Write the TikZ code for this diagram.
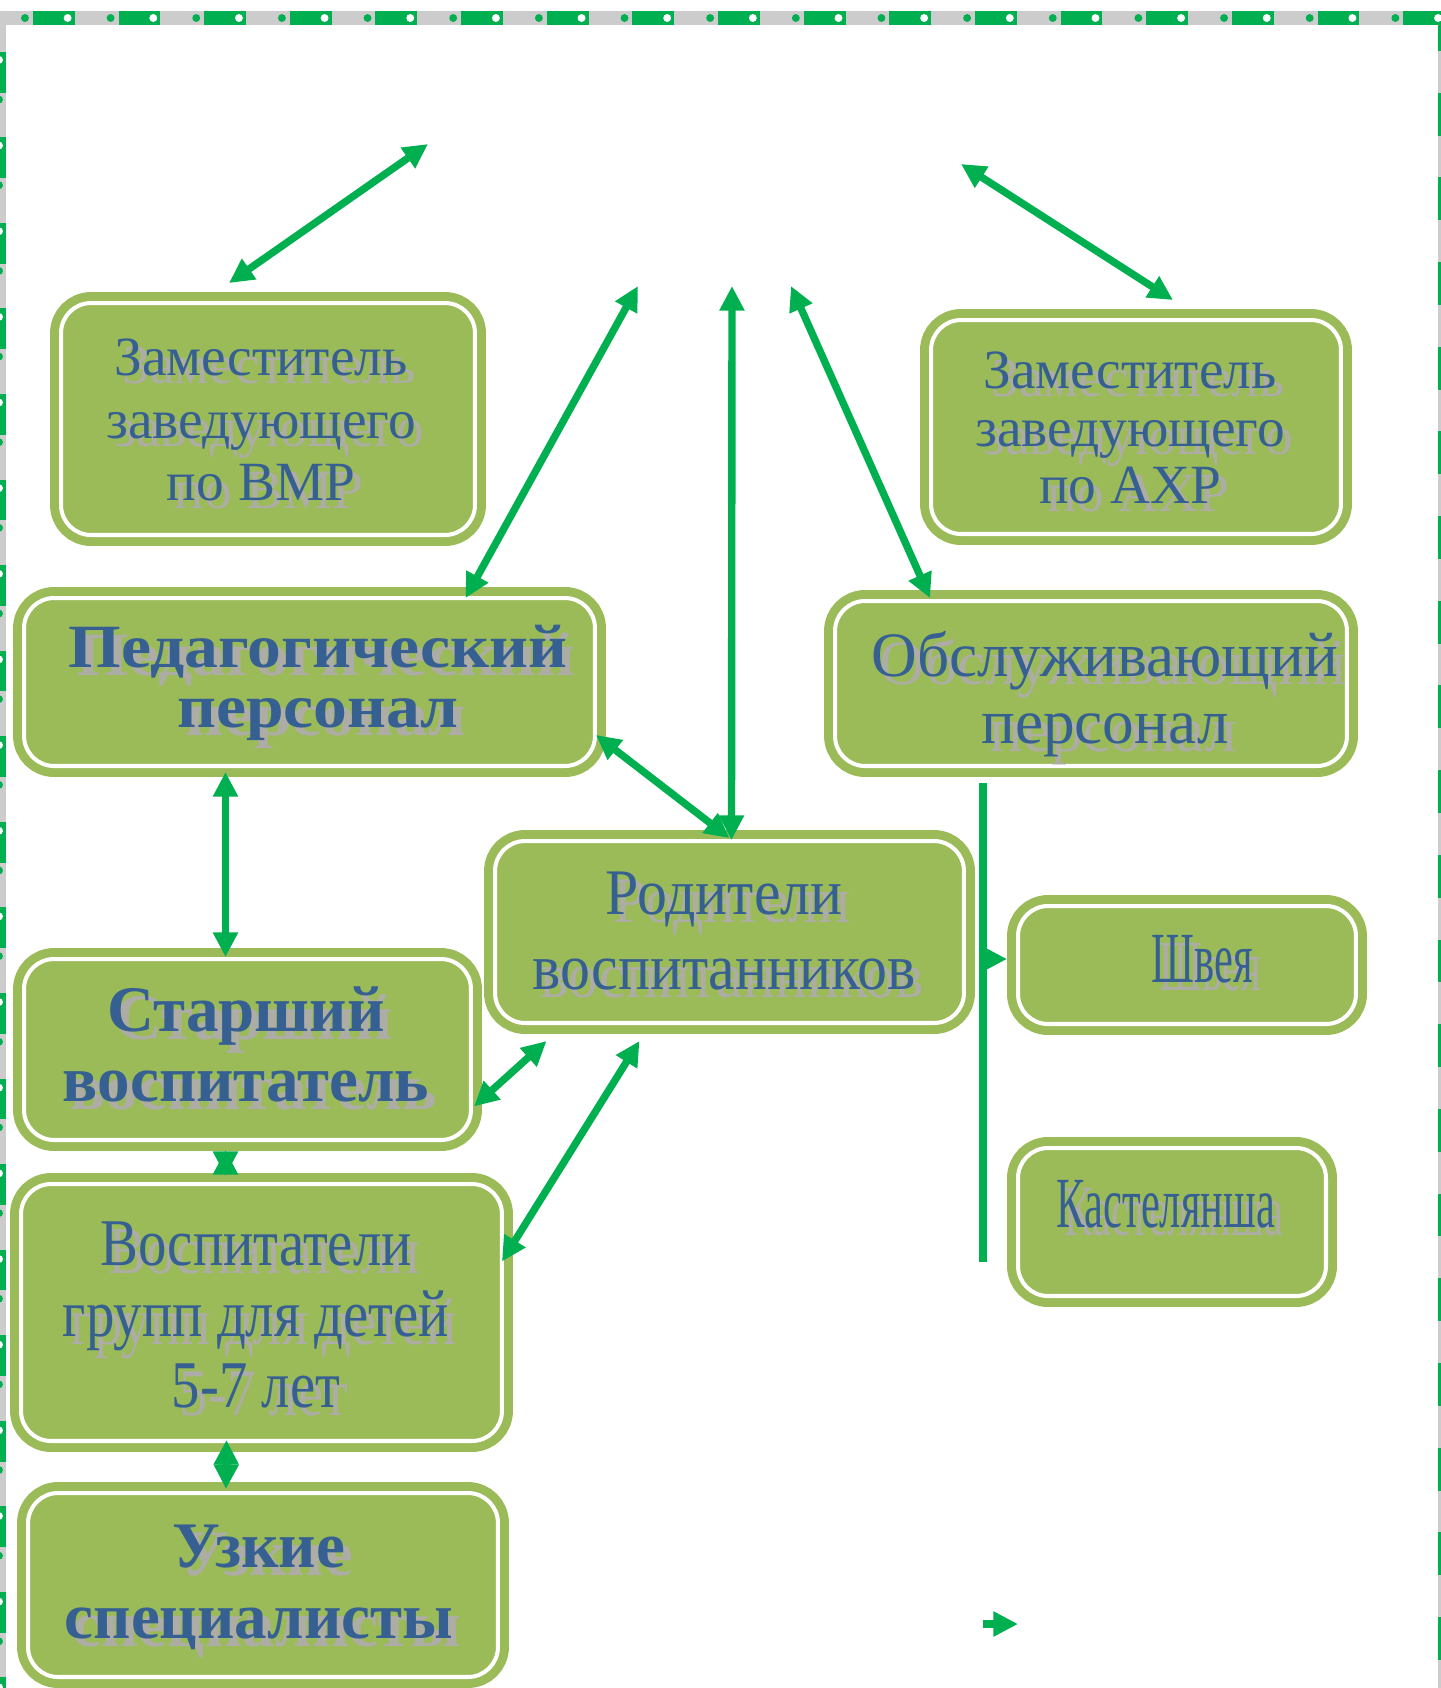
\documentclass[tikz,border=0pt]{standalone}
\usepackage{fontspec}
\setmainfont{Liberation Serif}
\newfontfamily\widerm[FakeStretch=1.1]{Liberation Serif}
\newfontfamily\slimrm[FakeStretch=0.92]{Liberation Serif}
\newfontfamily\condrm[FakeStretch=0.85]{Liberation Serif}
\newfontfamily\narrowrm[FakeStretch=0.59]{Liberation Serif}
\usetikzlibrary{arrows.meta}

\definecolor{boxgreen}{HTML}{9BBB59}
\definecolor{linkgreen}{HTML}{00B050}
\definecolor{textblue}{HTML}{376092}
\definecolor{shadowgray}{HTML}{ADADA6}
\definecolor{framegray}{HTML}{CCCCCC}

% caption with a grey shadow under it
\newcommand{\shadowtext}[3]{%
  \node[caption, text=shadowgray, #2] at ([shift={(8,8)}]#1) {#3};
  \node[caption, text=textblue, #2] at (#1) {#3};}

\begin{document}
\begin{tikzpicture}[x=0.02cm, y=-0.02cm,
    >={Triangle[length=14pt,width=13.5pt]},
    box/.style={rectangle, rounded corners=0.6cm, fill=boxgreen, draw=white,
      line width=2.3pt, outer sep=0.22cm, inner sep=0pt,
      preaction={draw=boxgreen, line width=12.5pt}},
    caption/.style={align=center, inner sep=0pt},
    link/.style={<->, line width=4.2pt, draw=linkgreen},
    arrow/.style={->, line width=4.5pt, draw=linkgreen},
    band/.style={framegray, line width=7.9pt}
  ]
  \useasboundingbox (0,0) rectangle (1441,1688);

  % page frame
  \draw[band] (-8,18) -- (1452,18);
  \draw[band] (-1,18) -- (-1,1700);
  \draw[band] (1445,18) -- (1445,1700);
  \draw[band, linkgreen, dash pattern=on 23.8pt off 24.95pt, dash phase=25.5pt] (-8,18) -- (1452,18);
  \draw[band, linkgreen, dash pattern=on 23.2pt off 25.5pt, dash phase=29.5pt] (-1,18) -- (-1,1700);
  \draw[band, linkgreen, dash pattern=on 24.4pt off 23.8pt, dash phase=5.7pt] (1445,18) -- (1445,1700);
  \draw[white, line width=4.5pt, line cap=round, dash pattern=on 0pt off 48.75pt, dash phase=5.7pt] (-8,18) -- (1452,18);
  \draw[linkgreen, line width=4.5pt, line cap=round, dash pattern=on 0pt off 48.75pt, dash phase=30pt] (-8,18) -- (1452,18);
  \draw[white, line width=4.5pt, line cap=round, dash pattern=on 0pt off 48.75pt, dash phase=24.9pt] (-1,18) -- (-1,1700);
  \draw[linkgreen, line width=4.5pt, line cap=round, dash pattern=on 0pt off 48.75pt, dash phase=2.3pt] (-1,18) -- (-1,1700);

  % boxes
  \node[box, minimum width=8.28cm, minimum height=4.64cm] (bmr) at (268,419) {};
  \node[box, minimum width=8.2cm, minimum height=4.28cm] (axr) at (1136,427) {};
  \node[box, minimum width=11.42cm, minimum height=3.36cm] (ped) at (309.5,682) {};
  \node[box, minimum width=10.24cm, minimum height=3.3cm] (obs) at (1091,683.5) {};
  \node[box, minimum width=9.38cm, minimum height=3.64cm] (rod) at (729.5,932) {};
  \node[box, minimum width=8.94cm, minimum height=3.62cm] (star) at (247.5,1049.5) {};
  \node[box, minimum width=9.62cm, minimum height=5.14cm] (vos) at (261.5,1312.5) {};
  \node[box, minimum width=9.4cm, minimum height=3.68cm] (uzk) at (263,1585) {};
  \node[box, minimum width=6.76cm, minimum height=2.36cm] (shv) at (1187,965) {};
  \node[box, minimum width=6.16cm, minimum height=2.96cm] (kas) at (1172,1222) {};

  % texts
  \shadowtext{261,420}{font=\fontsize{31.5}{35.7}\selectfont}{Заместитель\\заведующего\\по ВМР}
  \shadowtext{1130,428}{font=\fontsize{31.5}{32.5}\selectfont}{Заместитель\\заведующего\\по АХР}
  \shadowtext{318,683}{font=\widerm\bfseries\fontsize{35}{34}\selectfont}{Педагогический\\персонал}
  \shadowtext{1105,694}{font=\fontsize{36}{38}\selectfont}{Обслуживающий\\персонал}
  \shadowtext{724,931}{font=\slimrm\fontsize{37}{42.5}\selectfont}{Родители\\воспитанников}
  \shadowtext{246,1044.5}{font=\bfseries\fontsize{37}{40}\selectfont}{Старший\\воспитатель}
  \shadowtext{256,1315}{font=\condrm\fontsize{38}{40.3}\selectfont}{Воспитатели\\групп для детей\\5-7 лет}
  \shadowtext{259,1587}{font=\bfseries\fontsize{37}{40.5}\selectfont}{Узкие\\специалисты}
  \shadowtext{1202,959}{font=\narrowrm\fontsize{41}{44}\selectfont}{Швея}
  \shadowtext{1166,1204}{font=\narrowrm\fontsize{41}{44}\selectfont}{Кастелянша}

  % free ends up top
  \coordinate (head bmr) at (428,144);
  \coordinate (head axr) at (961,164);
  \coordinate (head ped) at (638,286);
  \coordinate (head rod) at (732,286);
  \coordinate (head obs) at (791,286);
  \coordinate (branch) at (983,783);
  \coordinate (branch end) at (983,1262);
  \coordinate (legend) at (983,1624);

  % links
  \draw[link] ([shift={(-39,-9)}]bmr.north) -- (head bmr);
  \draw[link] ([shift={(37,-9)}]axr.north) -- (head axr);
  \draw[link] ([shift={(156,11)}]ped.north) -- (head ped);
  \draw[link] ([shift={(2,10)}]rod.north) -- (head rod);
  \draw[link] ([shift={(-161,8)}]obs.north) -- (head obs);
  \draw[link] ([shift={(-10,53)}]ped.east) -- ([shift={(0,8)}]rod.north);
  \draw[link] ([shift={(-84,-5)}]ped.south) -- ([shift={(-22,9)}]star.north);
  \draw[link] ([shift={(-8,57)}]star.east) -- ([shift={(-183,7)}]rod.south);
  \draw[link] ([shift={(-11,-51)}]vos.east) -- ([shift={(-90,7)}]rod.south);
  \draw[link] ([shift={(-22,-1)}]star.south) -- ([shift={(-36,3)}]vos.north);
  \draw[link] ([shift={(-35,-12)}]vos.south) -- ([shift={(-37,7)}]uzk.north);
  \draw[linkgreen, line width=4.5pt] (branch) -- (branch end);
  \draw[arrow] ([yshift=0.12cm]branch |- shv.west) -- ([yshift=0.12cm]shv.west);
  \draw[arrow] (legend) -- ++(35,0);
\end{tikzpicture}
\end{document}
